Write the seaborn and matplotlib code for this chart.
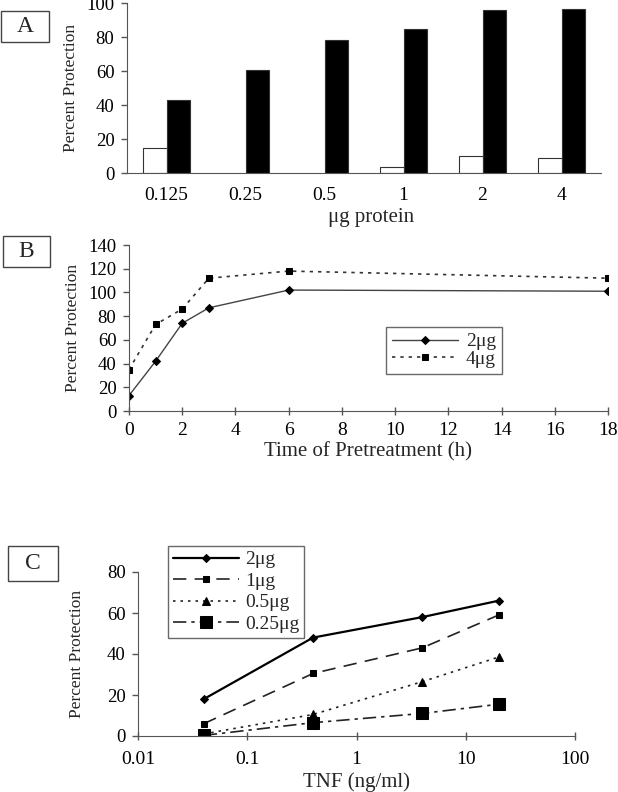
import numpy as np
import pandas as pd
import matplotlib
matplotlib.use("Agg")
import matplotlib.pyplot as plt
from matplotlib.patches import Rectangle
import seaborn as sns

# Panel A: percent protection vs protein dose
doses = ["0.125", "0.25", "0.5", "1", "2", "4"]
ctrl_a = [15, np.nan, np.nan, 3.5, 10, 9]
treat_a = [43, 60.5, 78.5, 84.5, 96, 96.5]

# Panel B: time of pretreatment
hours = [0, 1, 2, 3, 6, 18]
b_2ug = [13, 42, 74, 87, 102, 101]
b_4ug = [35, 73, 86, 112, 118, 112]

# Panel C: TNF dose response
tnf = [0.04, 0.4, 4, 20]
c_2ug = [18, 48, 58, 66]
c_1ug = [6, 30.5, 43, 59]
c_05ug = [1, 10.5, 26.5, 38.5]
c_025ug = [0.3, 6.5, 11, 15.5]

sns.set_style("ticks")
plt.rcParams["font.family"] = ["Liberation Serif", "DejaVu Serif"]
plt.rcParams["axes.edgecolor"] = "#555555"
plt.rcParams["xtick.color"] = "#555555"
plt.rcParams["ytick.color"] = "#555555"
plt.rcParams["xtick.labelcolor"] = "black"
plt.rcParams["ytick.labelcolor"] = "black"

fig = plt.figure(figsize=(6.18, 7.92), dpi=100)
W, H = 618, 792


def px_axes(l, t, r, b):
    return fig.add_axes([l / W, 1 - b / H, (r - l) / W, (b - t) / H])


def letter_box(l, t, r, b, s):
    fig.add_artist(Rectangle((l / W, 1 - b / H), (r - l) / W, (b - t) / H,
                             transform=fig.transFigure, fill=False,
                             edgecolor="#444444", linewidth=1))
    fig.text((l + r) / 2 / W, 1 - (t + b) / 2 / H, s, ha="center",
             va="center", fontsize=17)


def style_axes(ax):
    sns.despine(ax=ax)
    ax.tick_params(axis="x", labelsize=14, width=1)
    ax.tick_params(axis="y", labelsize=13.5, width=1)
    ax.set_ylabel("Percent Protection", fontsize=12.5)


# ---- A ----
axA = px_axes(127, 3, 601, 173)
dfA = pd.DataFrame({
    "dose": doses * 2,
    "value": ctrl_a + treat_a,
    "group": ["ctrl"] * 6 + ["treat"] * 6,
})
sns.barplot(data=dfA, x="dose", y="value", hue="group", order=doses,
            palette={"ctrl": "white", "treat": "black"}, width=0.6,
            edgecolor="#333333", linewidth=0.8, legend=False, ax=axA)
axA.set_ylim(0, 100)
axA.set_yticks(range(0, 101, 20))
style_axes(axA)
axA.tick_params(axis="x", length=0, pad=10)
axA.tick_params(axis="y", length=4, pad=5)
axA.set_xlabel("\u03bcg protein", fontsize=15)
axA.xaxis.set_label_coords(0.515, -0.205)
axA.yaxis.set_label_coords(-0.101, 0.5)
letter_box(1, 11, 49, 42, "A")

# ---- B ----
axB = px_axes(129, 245, 608, 411)
sns.lineplot(x=hours, y=b_2ug, ax=axB, color="#444444", linewidth=1,
             marker="D", markersize=4, markerfacecolor="black",
             markeredgecolor="black", label="2\u03bcg")
sns.lineplot(x=hours, y=b_4ug, ax=axB, color="#333333", linewidth=1.2,
             linestyle=(0, (2, 3)), marker="s", markersize=5,
             markerfacecolor="black", markeredgecolor="black",
             label="4\u03bcg")
axB.set_xlim(0, 18)
axB.set_ylim(0, 140)
axB.set_xticks(range(0, 19, 2))
axB.set_yticks(range(0, 141, 20))
style_axes(axB)
axB.tick_params(axis="x", direction="inout", length=6, pad=5)
axB.tick_params(axis="y", length=4, pad=5)
axB.set_xlabel("Time of Pretreatment (h)", fontsize=15)
axB.xaxis.set_label_coords(0.5, -0.185)
axB.yaxis.set_label_coords(-0.10, 0.5)
legB = axB.legend(loc="upper left", bbox_to_anchor=(0.537, 0.506),
                  fontsize=14, frameon=True, fancybox=False,
                  handlelength=3.4, borderpad=0.3, labelspacing=0.0,
                  handletextpad=0.4, borderaxespad=0)
legB.get_frame().set_edgecolor("#444444")
legB.get_frame().set_linewidth(1)
letter_box(3, 236, 50, 267, "B")

# ---- C ----
axC = px_axes(138, 572, 575, 736)
sns.lineplot(x=tnf, y=c_2ug, ax=axC, color="black", linewidth=1.6,
             marker="D", markersize=4, markeredgecolor="black",
             label="2\u03bcg")
sns.lineplot(x=tnf, y=c_1ug, ax=axC, color="#222222", linewidth=1.2,
             linestyle=(0, (8, 5)), marker="s", markersize=5,
             markeredgecolor="black", markerfacecolor="black",
             label="1\u03bcg")
sns.lineplot(x=tnf, y=c_05ug, ax=axC, color="#222222", linewidth=1.2,
             linestyle=(0, (1.5, 3)), marker="^", markersize=6,
             markeredgecolor="black", markerfacecolor="black",
             label="0.5\u03bcg")
sns.lineplot(x=tnf, y=c_025ug, ax=axC, color="#222222", linewidth=1.2,
             linestyle=(0, (8, 3, 2, 3)), marker="s", markersize=9,
             markeredgecolor="black", markerfacecolor="black",
             label="0.25\u03bcg")
axC.set_xscale("log")
axC.set_xlim(0.01, 100)
axC.set_ylim(0, 80)
axC.set_xticks([0.01, 0.1, 1, 10, 100])
axC.set_xticklabels(["0.01", "0.1", "1", "10", "100"])
axC.xaxis.set_minor_locator(matplotlib.ticker.NullLocator())
axC.set_yticks(range(0, 81, 20))
style_axes(axC)
axC.tick_params(axis="x", direction="inout", length=6, pad=8)
axC.tick_params(axis="y", length=4, pad=5)
axC.set_xlabel("TNF (ng/ml)", fontsize=15)
axC.xaxis.set_label_coords(0.5, -0.222)
axC.yaxis.set_label_coords(-0.121, 0.5)
legC = axC.legend(loc="upper left", bbox_to_anchor=(0.069, 1.159),
                  fontsize=14, frameon=True, fancybox=False, handlelength=3.4,
                  borderpad=0.25, labelspacing=0.2, handletextpad=0.3,
                  borderaxespad=0)
legC.get_frame().set_edgecolor("#444444")
legC.get_frame().set_linewidth(1)
letter_box(8, 546, 58, 581, "C")

fig.savefig("out.png", dpi=100, facecolor="white")
